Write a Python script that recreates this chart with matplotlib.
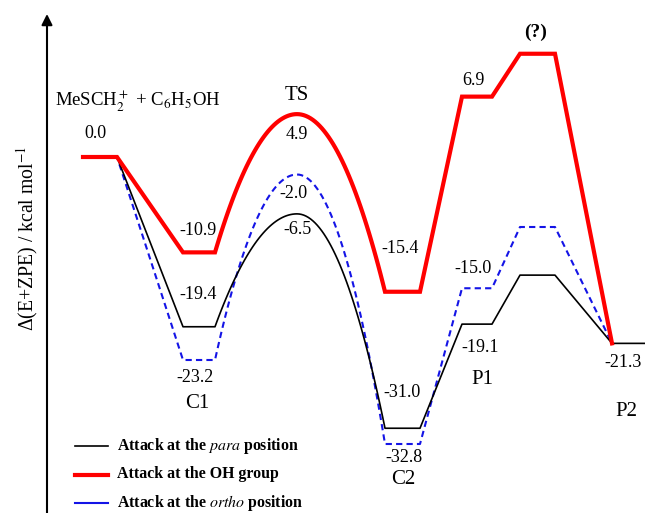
import numpy as np
import matplotlib
matplotlib.use("Agg")
import matplotlib.pyplot as plt

# ---------------- data ----------------
stages = ["MeSCH$_2^+$ + C$_6$H$_5$OH", "C1", "TS", "C2", "P1", "(?)", "P2"]
para = [0.0, -19.4, -6.5, -31.0, -19.1, -13.5, -21.3]     # black
oh = [0.0, -10.9, 4.9, -15.4, 6.9, 11.8, -21.3]            # red
ortho = [0.0, -23.2, -2.0, -32.8, -15.0, -8.0, -21.3]      # blue dashed
legend_labels = ["Attack at the $\\it{para}$ position",
                 "Attack at the OH group",
                 "Attack at the $\\it{ortho}$ position"]

# ---------------- layout (pixel-like x units) ----------------
W, H = 645, 513
Y0PIX, SCALE = 157, 8.75          # pixel row of 0.0 and px per kcal
def yv(p):                         # pixel row -> data y
    return (Y0PIX - p) / SCALE

plateaus = [(83, 117), (183, 215), (297, 297), (385, 420), (462, 492), (520, 555), (612, 645)]

plt.rcParams["font.family"] = ["Liberation Serif", "DejaVu Serif"]
plt.rcParams["mathtext.fontset"] = "stix"

fig = plt.figure(figsize=(W / 100, H / 100), dpi=100)
ax = fig.add_axes([0, 0, 1, 1])
ax.set_xlim(0, W)
ax.set_ylim(yv(H), yv(0))
ax.axis("off")


def path(vals, end_plateau=True):
    xs, ys = [], []
    xs += [plateaus[0][0], plateaus[0][1]]; ys += [vals[0], vals[0]]
    xs += [plateaus[1][0], plateaus[1][1]]; ys += [vals[1], vals[1]]
    xl, xp, xr = plateaus[1][1], plateaus[2][0], plateaus[3][0]
    t = np.linspace(0, 1, 40)[1:]
    xa = xl + (xp - xl) * t
    ya = vals[2] - (vals[2] - vals[1]) * (1 - t) ** 2
    xb = xp + (xr - xp) * t
    yb = vals[2] - (vals[2] - vals[3]) * t ** 2
    xs += list(xa) + list(xb); ys += list(ya) + list(yb)
    xs += [plateaus[3][1]]; ys += [vals[3]]
    for k in (4, 5):
        xs += [plateaus[k][0], plateaus[k][1]]; ys += [vals[k], vals[k]]
    xs += [plateaus[6][0]]; ys += [vals[6]]
    if end_plateau:
        xs += [plateaus[6][1]]; ys += [vals[6]]
    return xs, ys


xs, ys = path(ortho, False)
ax.plot(xs, ys, color="#1414e6", lw=1.5, ls=(0, (3.0, 2.0)), zorder=2)
xs, ys = path(para, True)
ax.plot(xs, ys, color="black", lw=1.2, zorder=3)
xs, ys = path(oh, False)
ax.plot(xs, ys, color="#ff0000", lw=3.0, zorder=4, solid_joinstyle="miter")

# value labels: (series, stage index, dx px, dy px)
fs_val = 13
value_labels = [
    (para, 0, -5, 23),
    (oh, 1, -1, 22), (para, 1, -1, 32), (ortho, 1, -4, -18),
    (oh, 2, 0, -20), (ortho, 2, -4, -19), (para, 2, 0, -16),
    (oh, 3, -2, 43), (para, 3, 0, 36), (ortho, 3, 1, -13),
    (oh, 4, -4, 16), (ortho, 4, -4, 20), (para, 4, 3, -23),
    (para, 6, 11, -19),
]
for ser, k, dx, dy in value_labels:
    x0, x1 = plateaus[k]
    xc = x0 if k == 6 else (x0 + x1) / 2
    ax.annotate(f"{ser[k]:.1f}", xy=(xc, ser[k]), xytext=(dx, dy),
                textcoords="offset pixels", ha="center", va="center",
                fontsize=fs_val)

# stage names
name_pos = [(138, 100, 13.5, "normal"), (197, 404, 15, "normal"), (297, 95, 15, "normal"),
            (403, 480, 15, "normal"), (482, 380, 15, "normal"), (536, 32, 14, "bold"),
            (626, 411, 15, "normal")]
for name, (px, py, fs, fw) in zip(stages, name_pos):
    ax.text(px, yv(py), name, ha="center", va="center", fontsize=fs, fontweight=fw)

# axis arrow
ax.annotate("", xy=(47, yv(14)), xytext=(47, yv(H)),
            arrowprops=dict(arrowstyle="-|>", lw=1.5, color="black", mutation_scale=16,
                            shrinkA=0, shrinkB=0))
ax.text(27, yv(238), "Δ(E+ZPE) / kcal mol$^{-1}$", rotation=90, ha="center", va="center",
        fontsize=14.2)

# legend
leg_styles = [dict(color="black", lw=1.2), dict(color="#ff0000", lw=3.0), dict(color="#1414e6", lw=1.5)]
for i, (lab, st) in enumerate(zip(legend_labels, leg_styles)):
    py = 446 + 28.5 * i
    ax.plot([75, 108], [yv(py), yv(py)], **st)
    ax.text(117, yv(py), lab, ha="left", va="center", fontsize=11.4, fontweight="bold")

fig.savefig("out.png", dpi=100)
